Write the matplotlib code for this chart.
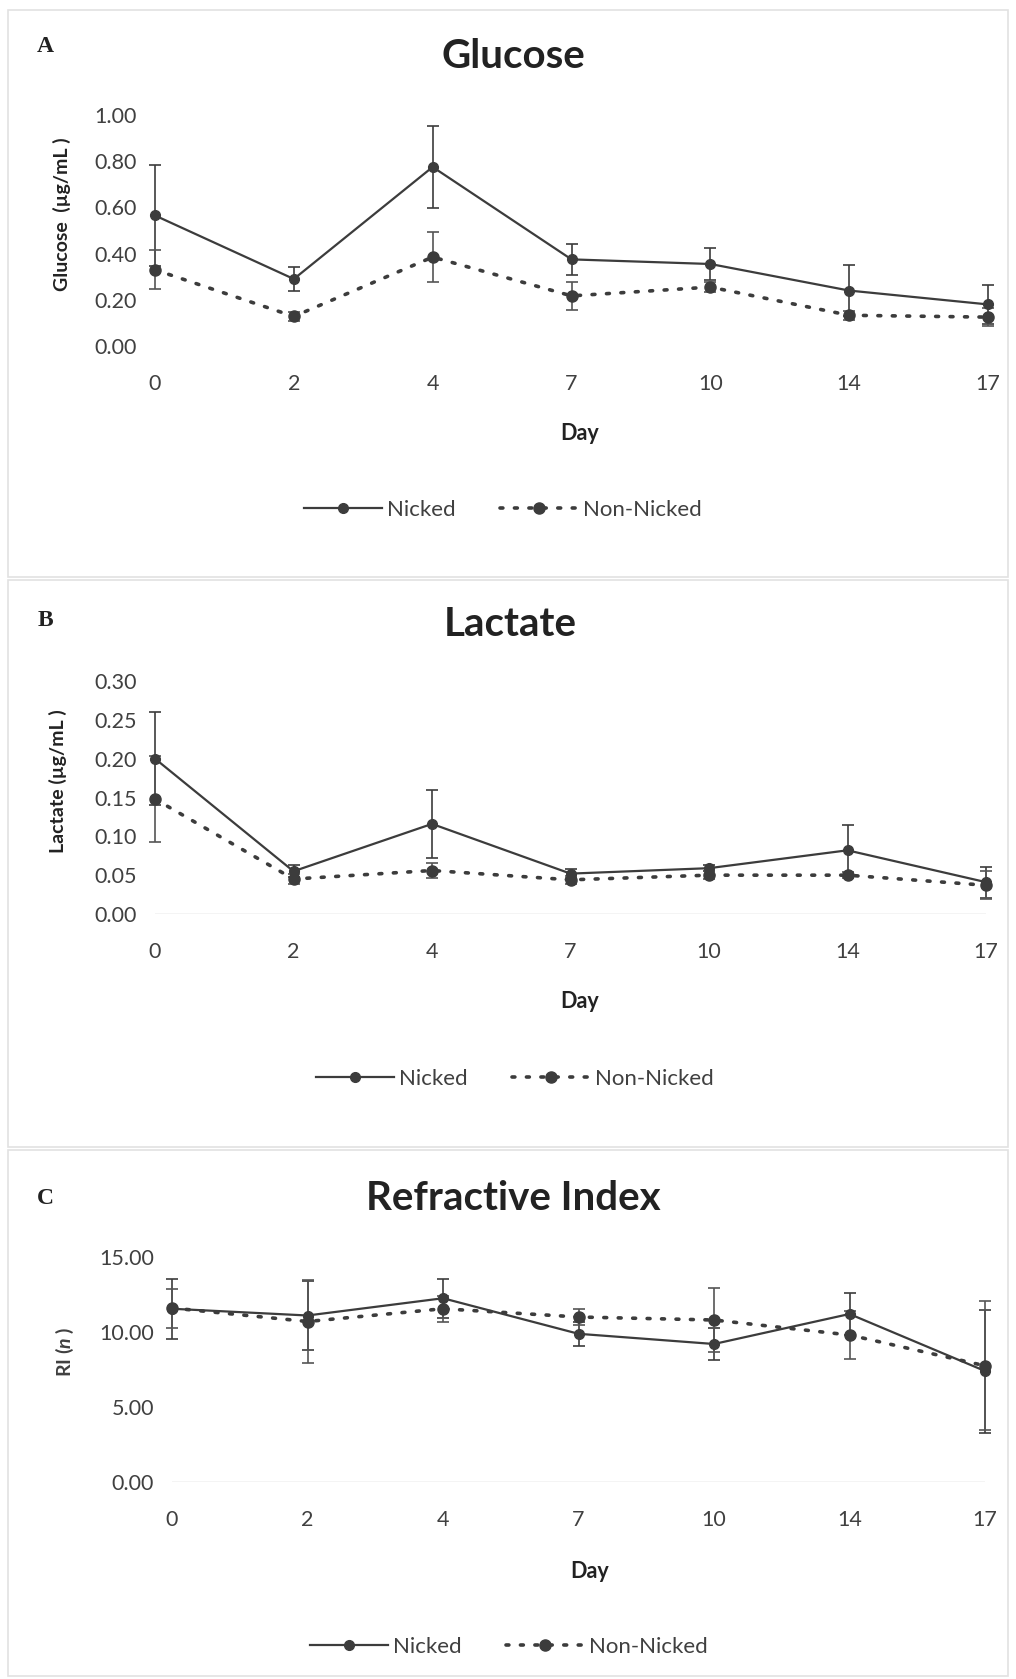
import numpy as np
import matplotlib
matplotlib.use("Agg")
import matplotlib.pyplot as plt
from matplotlib.lines import Line2D
from matplotlib.patches import Rectangle

# ==========================================
# Data
# ==========================================

days = ["0", "2", "4", "7", "10", "14", "17"]

glucose_nicked = [0.565, 0.29, 0.775, 0.375, 0.355, 0.24, 0.18]
glucose_nicked_err = [0.22, 0.05, 0.178, 0.066, 0.07, 0.11, 0.085]
glucose_non = [0.33, 0.128, 0.385, 0.217, 0.255, 0.133, 0.125]
glucose_non_err = [0.085, 0.02, 0.11, 0.06, 0.02, 0.02, 0.04]

lactate_nicked = [0.20, 0.055, 0.116, 0.052, 0.059, 0.082, 0.041]
lactate_nicked_err = [0.06, 0.008, 0.044, 0.006, 0.004, 0.032, 0.02]
lactate_non = [0.148, 0.045, 0.056, 0.044, 0.05, 0.05, 0.037]
lactate_non_err = [0.055, 0.006, 0.01, 0.005, 0.005, 0.004, 0.018]

ri_nicked = [11.55, 11.1, 12.25, 9.88, 9.2, 11.2, 7.4]
ri_nicked_err = [2.0, 2.3, 1.3, 0.8, 1.05, 1.4, 4.1]
ri_non = [11.6, 10.7, 11.55, 11.0, 10.8, 9.8, 7.75]
ri_non_err = [1.3, 2.75, 0.85, 0.55, 2.15, 1.6, 4.3]

# ==========================================
# Style
# ==========================================

plt.rcParams["font.family"] = ["Lato", "DejaVu Sans"]
plt.rcParams["mathtext.fontset"] = "custom"
plt.rcParams["mathtext.it"] = "Lato:italic:bold"
plt.rcParams["mathtext.rm"] = "Lato:bold"

dark = "#3c3c3c"
text_col = "#404040"
dot_style = (0, (0.8, 3.2))

W, H = 1016, 1679
fig = plt.figure(figsize=(W / 100, H / 100), dpi=100)
fig.patch.set_facecolor("white")


def px_axes(left, right, top, bottom):
    return fig.add_axes([left / W, 1 - bottom / H,
                         (right - left) / W, (bottom - top) / H])


def fig_text(x, y, s, **kw):
    fig.text(x / W, 1 - y / H, s, **kw)


def draw_panel(ax, nicked, nicked_err, non, non_err, ylim, yticks, axis_line):
    x = np.arange(len(days))

    eb1 = ax.errorbar(x, nicked, yerr=nicked_err, color=dark, lw=1.6,
                      marker="o", ms=7, capsize=4, elinewidth=1.2,
                      capthick=1.2, ecolor=dark)
    eb2 = ax.errorbar(x, non, yerr=non_err, color=dark, lw=2.6,
                      linestyle=dot_style, dash_capstyle="round",
                      marker="o", ms=8, capsize=4, elinewidth=1.2,
                      capthick=1.2, ecolor="#555555")
    for eb in (eb1, eb2):
        for child in eb.get_children():
            child.set_clip_on(False)

    ax.set_xlim(0, len(days) - 1)
    ax.set_ylim(*ylim)
    ax.set_xticks(x, days)
    ax.set_yticks(yticks)
    ax.yaxis.set_major_formatter(matplotlib.ticker.FormatStrFormatter("%.2f"))
    ax.tick_params(length=0, labelsize=15.5, colors=text_col)
    ax.tick_params(axis="x", pad=20)
    ax.tick_params(axis="y", pad=13)
    for side in ["top", "right", "left", "bottom"]:
        ax.spines[side].set_visible(False)
    if axis_line:
        ax.axhline(0, color="#c8c8c8", lw=1.0, zorder=0)
    ax.set_facecolor("none")


def draw_legend(cx, cy):
    handles = [
        Line2D([], [], color=dark, lw=1.6, marker="o", ms=7),
        Line2D([], [], color=dark, lw=2.6, linestyle=dot_style,
               dash_capstyle="round", marker="o", ms=8),
    ]
    fig.legend(handles, ["Nicked", "Non-Nicked"], loc="center",
               bbox_to_anchor=(cx / W, 1 - cy / H), ncol=2, frameon=False,
               fontsize=16, handlelength=3.5, handletextpad=0.25,
               columnspacing=2.0, labelcolor=text_col)


# ==========================================
# Panel frames
# ==========================================

for top, bottom in [(10, 577), (580, 1147), (1150, 1676)]:
    fig.patches.append(Rectangle((8 / W, 1 - bottom / H), (1008 - 8) / W,
                                 (bottom - top) / H, transform=fig.transFigure,
                                 facecolor="none", edgecolor="#e2e2e2", lw=1.2))

# ==========================================
# Panel A - Glucose
# ==========================================

ax_a = px_axes(155, 988, 115, 346)
draw_panel(ax_a, glucose_nicked, glucose_nicked_err, glucose_non,
           glucose_non_err, (0, 1.0), np.arange(0, 1.01, 0.2), False)
fig_text(45, 46, "A", family="Liberation Serif", fontweight="bold",
         fontsize=17, ha="center", va="center", color="#222222")
fig_text(513, 57, "Glucose", fontsize=29, fontweight="bold",
         ha="center", va="center", color="#222222")
fig_text(62, 214, "Glucose  (µg/mL )", rotation=90, fontsize=14,
         fontweight="bold", ha="center", va="center", color="#222222")
fig_text(580, 434, "Day", fontsize=15.5, fontweight="bold",
         ha="center", va="center", color="#222222")
draw_legend(503, 510)

# ==========================================
# Panel B - Lactate
# ==========================================

ax_b = px_axes(155, 986, 681, 914)
draw_panel(ax_b, lactate_nicked, lactate_nicked_err, lactate_non,
           lactate_non_err, (0, 0.30), np.arange(0, 0.301, 0.05), True)
fig_text(45, 621, "B", family="Liberation Serif", fontweight="bold",
         fontsize=17, ha="center", va="center", color="#222222")
fig_text(510, 624, "Lactate", fontsize=29, fontweight="bold",
         ha="center", va="center", color="#222222")
fig_text(58, 781, "Lactate (µg/mL )", rotation=90, fontsize=14,
         fontweight="bold", ha="center", va="center", color="#222222")
fig_text(580, 1001, "Day", fontsize=15.5, fontweight="bold",
         ha="center", va="center", color="#222222")
draw_legend(515, 1079)

# ==========================================
# Panel C - Refractive Index
# ==========================================

ax_c = px_axes(172, 985, 1257, 1482)
draw_panel(ax_c, ri_nicked, ri_nicked_err, ri_non, ri_non_err,
           (0, 15), [0, 5, 10, 15], True)
fig_text(45, 1198, "C", family="Liberation Serif", fontweight="bold",
         fontsize=17, ha="center", va="center", color="#222222")
fig_text(513, 1198, "Refractive Index", fontsize=29, fontweight="bold",
         ha="center", va="center", color="#222222")
fig_text(65, 1352, r"RI ($\mathit{n}$ )", rotation=90, fontsize=14,
         fontweight="bold", ha="center", va="center", color="#404040")
fig_text(590, 1571, "Day", fontsize=15.5, fontweight="bold",
         ha="center", va="center", color="#222222")
draw_legend(509, 1647)

plt.savefig("out.png", dpi=100, facecolor="white")
